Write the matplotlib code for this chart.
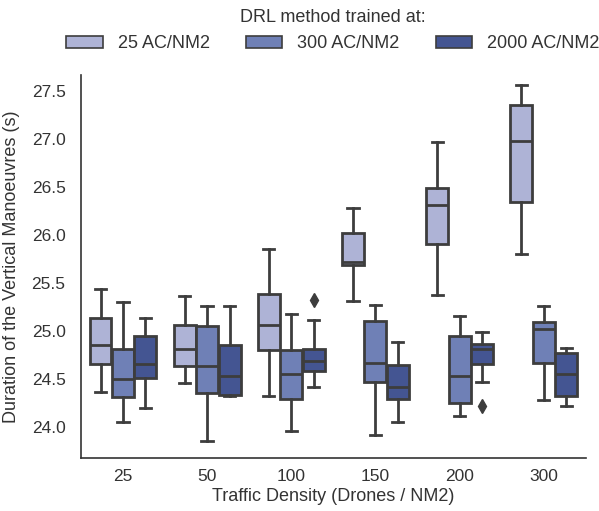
import numpy as np
import matplotlib.pyplot as plt
from matplotlib.patches import Patch

plt.rcParams['font.family'] = ['Liberation Sans', 'DejaVu Sans']

densities = ['25', '50', '100', '150', '200', '300']
methods = ['25 AC/NM2', '300 AC/NM2', '2000 AC/NM2']
colors = ['#aeb3d6', '#6f80b6', '#445592']

# box statistics, one row per method, one column per density
whislo = [[24.37, 24.46, 24.33, 25.32, 25.38, 25.81],
          [24.05, 23.86, 23.96, 23.92, 24.12, 24.28],
          [24.20, 24.32, 24.42, 24.05, 24.47, 24.22]]
q1 = [[24.66, 24.64, 24.80, 25.69, 25.91, 26.35],
      [24.31, 24.36, 24.29, 24.47, 24.25, 24.67],
      [24.51, 24.34, 24.59, 24.29, 24.66, 24.33]]
med = [[24.86, 24.81, 25.07, 25.72, 26.32, 26.98],
       [24.50, 24.64, 24.55, 24.67, 24.53, 25.02],
       [24.66, 24.53, 24.69, 24.42, 24.81, 24.55]]
q3 = [[25.135, 25.07, 25.39, 26.02, 26.49, 27.36],
      [24.82, 25.05, 24.80, 25.11, 24.95, 25.10],
      [24.95, 24.86, 24.81, 24.65, 24.87, 24.77]]
whishi = [[25.44, 25.37, 25.86, 26.28, 26.97, 27.57],
          [25.30, 25.26, 25.18, 25.27, 25.16, 25.26],
          [25.135, 25.26, 25.12, 24.89, 24.99, 24.83]]
fliers = [[[], [], [], [], [], []],
          [[], [], [], [], [], []],
          [[], [], [25.33], [], [24.22], []]]

fig = plt.figure(figsize=(5.99, 5.11), dpi=100)
ax = fig.add_axes([0.135, 0.104, 0.843, 0.749])

w = 0.8 / 3
edge = '#3d3d3d'
for j in range(3):
    stats = []
    for i in range(len(densities)):
        stats.append({'med': med[j][i], 'q1': q1[j][i], 'q3': q3[j][i],
                      'whislo': whislo[j][i], 'whishi': whishi[j][i],
                      'fliers': fliers[j][i]})
    pos = np.arange(len(densities)) + (j - 1) * w
    ax.bxp(stats, positions=pos, widths=w * 0.98, capwidths=w * 0.5,
           patch_artist=True, manage_ticks=False,
           boxprops=dict(facecolor=colors[j], edgecolor=edge, linewidth=2),
           medianprops=dict(color=edge, linewidth=2),
           whiskerprops=dict(color=edge, linewidth=2),
           capprops=dict(color=edge, linewidth=2),
           flierprops=dict(marker='d', markerfacecolor=edge, markeredgecolor=edge,
                           markersize=7))

ax.set_xlim(-0.5, len(densities) - 0.5)
ax.set_ylim(23.68, 27.67)
ax.set_xticks(np.arange(len(densities)))
ax.set_xticklabels(densities)
ax.set_yticks(np.arange(24.0, 27.51, 0.5))
ax.set_yticklabels([f'{v:.1f}' for v in np.arange(24.0, 27.51, 0.5)])
ax.tick_params(length=0, labelsize=12.5, colors='#333333')
ax.tick_params(axis='x', pad=8)
ax.tick_params(axis='y', pad=11)
for s in ['top', 'right']:
    ax.spines[s].set_visible(False)
for s in ['left', 'bottom']:
    ax.spines[s].set_color('#333333')
    ax.spines[s].set_linewidth(1.2)
ax.set_xlabel('Traffic Density (Drones / NM2)', fontsize=13, color='#333333', labelpad=3)
ax.set_ylabel('Duration of the Vertical Manoeuvres (s)', fontsize=13, color='#333333', labelpad=8)

handles = [Patch(facecolor=colors[j], edgecolor=edge, linewidth=1.2) for j in range(3)]
leg = fig.legend(handles, methods, title='DRL method trained at:', loc='upper center',
                 bbox_to_anchor=(0.556, 1.01), ncol=3, frameon=False, fontsize=13,
                 title_fontsize=13, handlelength=2.0, handleheight=0.65, columnspacing=2.0,
                 handletextpad=0.85, borderpad=0.3)
for t in leg.get_texts():
    t.set_color('#333333')
leg.get_title().set_color('#333333')

fig.savefig('out.png', dpi=100)
